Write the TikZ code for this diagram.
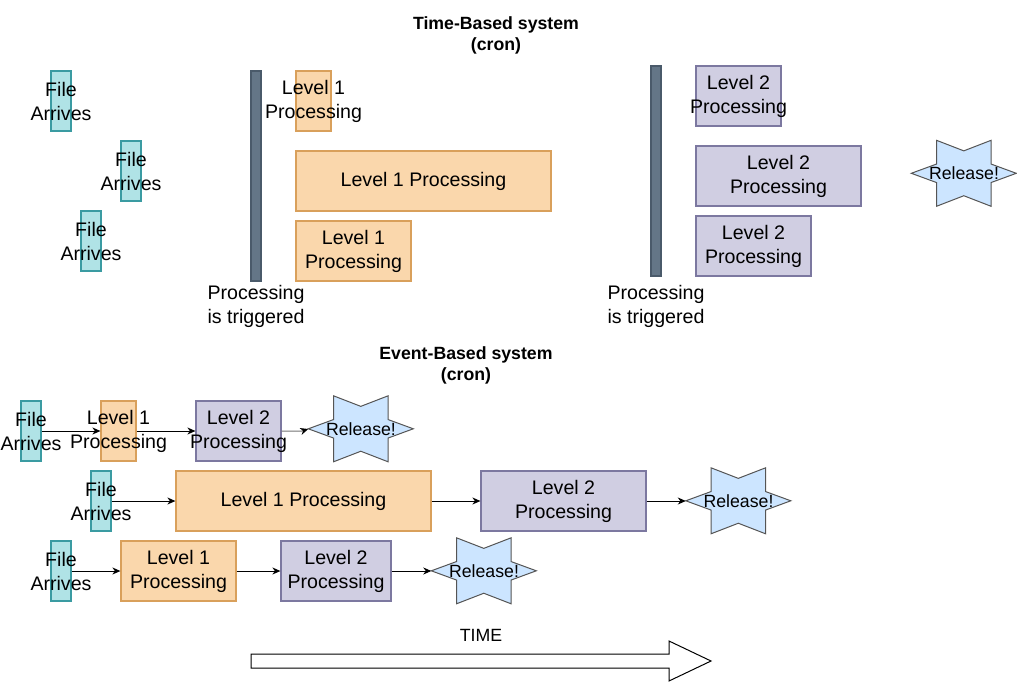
\documentclass[tikz,border=0pt]{standalone}
\usepackage{fontspec}
\setmainfont{Liberation Sans}
\usetikzlibrary{arrows.meta,backgrounds}
\definecolor{filefill}{HTML}{B0E3E6}
\definecolor{filedraw}{HTML}{3A9BA2}
\definecolor{lonefill}{HTML}{FAD7AC}
\definecolor{lonedraw}{HTML}{D9A05B}
\definecolor{ltwofill}{HTML}{D0CEE2}
\definecolor{ltwodraw}{HTML}{7C78A0}
\definecolor{barfill}{HTML}{647687}
\definecolor{bardraw}{HTML}{4A5A6A}
\definecolor{starfill}{HTML}{CCE5FF}
\definecolor{stardraw}{HTML}{555555}
\newcommand\fbig{\fontsize{19.6}{24}\selectfont}
\newcommand\fsml{\fontsize{17.7}{21}\selectfont}
\newcommand\zl[1]{\makebox[0pt][c]{#1}}
\newcommand\relstar[1]{%
  \begin{scope}[on background layer, shift={(#1.north west)}, x=105pt, y=-66pt]
    \draw[starsty] (0,.5) -- (.24,.36) -- (.24,0) -- (.5,.16) -- (.76,0) -- (.76,.36)
      -- (1,.5) -- (.76,.64) -- (.76,1) -- (.5,.84) -- (.24,1) -- (.24,.64) -- cycle;
  \end{scope}}
\tikzset{
  box/.style={line width=1.2pt, inner sep=0pt, align=center, font=\fbig},
  filebox/.style={box, fill=filefill, draw=filedraw, minimum width=20pt, minimum height=60pt},
  lone/.style={box, fill=lonefill, draw=lonedraw, minimum height=60pt},
  ltwo/.style={box, fill=ltwofill, draw=ltwodraw, minimum height=60pt},
  bar/.style={line width=1.2pt, fill=barfill, draw=bardraw, minimum width=10pt, minimum height=210pt, inner sep=0pt},
  txt/.style={align=center, font=\fbig, inner sep=0pt},
  ttl/.style={align=center, font=\fsml\bfseries, inner sep=0pt},
  starnode/.style={minimum width=105pt, minimum height=66pt, inner sep=0pt, font=\fsml},
  starsty/.style={fill=starfill, draw=stardraw, line width=1pt, line join=miter},
  conn/.style={line width=1pt, -{Stealth[length=8pt,width=7pt,inset=2.5pt,color=black]}},
}
\begin{document}
\begin{tikzpicture}[x=1pt, y=-1pt]
\useasboundingbox (0,0) rectangle (1017,682);
% ---------- Time-based ----------
\node[ttl] (title1) at (496,35) {Time-Based system\\(cron)};
\node[filebox] (tf1) at (61,101) {\zl{File}\\\zl{Arrives}};
\node[filebox] (tf2) at (131,171) {\zl{File}\\\zl{Arrives}};
\node[filebox] (tf3) at (91,241) {\zl{File}\\\zl{Arrives}};
\node[bar] (bar1) at (256,176) {};
\node[txt] (trig1) at (256,306) {Processing\\is triggered};
\node[lone, minimum width=35pt] (t11) at (313.5,101) {\zl{Level 1}\\\zl{Processing}};
\node[lone, minimum width=255pt] (t12) at (423.5,181) {Level 1 Processing};
\node[lone, minimum width=115pt] (t13) at (353.5,251) {Level 1\\Processing};
\node[bar] (bar2) at (656,171) {};
\node[txt] (trig2) at (656,306) {Processing\\is triggered};
\node[ltwo, minimum width=85pt] (t21) at (738.5,96) {\zl{Level 2}\\\zl{Processing}};
\node[ltwo, minimum width=165pt] (t22) at (778.5,176) {Level 2\\Processing};
\node[ltwo, minimum width=115pt] (t23) at (753.5,246) {Level 2\\Processing};
\node[starnode] (s0) at (964,173.5) {Release!};
\relstar{s0}
% ---------- Event-based ----------
\node[ttl] (title2) at (466,365) {Event-Based system\\(cron)};
% row 1
\node[filebox] (e1f) at (31,431) {\zl{File}\\\zl{Arrives}};
\node[lone, minimum width=35pt] (e1a) at (118.5,431) {\zl{Level 1}\\\zl{Processing}};
\node[ltwo, minimum width=85pt] (e1b) at (238.5,431) {\zl{Level 2}\\\zl{Processing}};
\node[starnode] (s1) at (361,429) {Release!};
\relstar{s1}
\draw[conn] (e1f) -- (e1a);
\draw[conn] (e1a) -- (e1b);
\draw[conn, draw=black!55] (e1b.east) -- (302,431) -- (s1.west);
% row 2
\node[filebox] (e2f) at (101,501) {\zl{File}\\\zl{Arrives}};
\node[lone, minimum width=255pt] (e2a) at (303.5,501) {Level 1 Processing};
\node[ltwo, minimum width=165pt] (e2b) at (563.5,501) {Level 2\\Processing};
\node[starnode] (s2) at (738.5,501) {Release!};
\relstar{s2}
\draw[conn] (e2f) -- (e2a);
\draw[conn] (e2a) -- (e2b);
\draw[conn] (e2b) -- (s2.west);
% row 3
\node[filebox] (e3f) at (61,571) {\zl{File}\\\zl{Arrives}};
\node[lone, minimum width=115pt] (e3a) at (178.5,571) {Level 1\\Processing};
\node[ltwo, minimum width=110pt] (e3b) at (336,571) {Level 2\\Processing};
\node[starnode] (s3) at (484,571) {Release!};
\relstar{s3}
\draw[conn] (e3f) -- (e3a);
\draw[conn] (e3a) -- (e3b);
\draw[conn] (e3b) -- (s3.west);
% ---------- time arrow ----------
\node[font=\fsml, inner sep=0pt] (time) at (481,635) {TIME};
\draw[line width=1pt, fill=white, line join=miter] (251,654) -- (669,654) -- (669,641) -- (711,661)
  -- (669,681) -- (669,668) -- (251,668) -- cycle;
\end{tikzpicture}
\end{document}
